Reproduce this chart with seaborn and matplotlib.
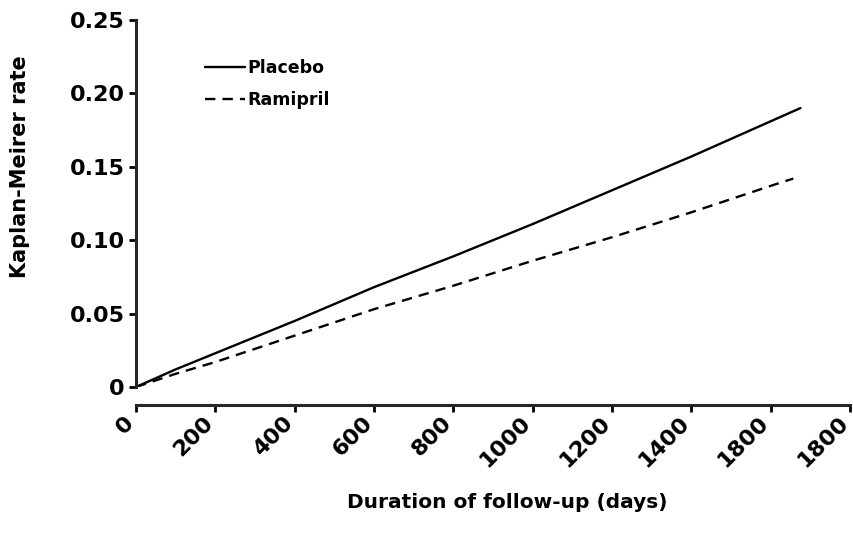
import matplotlib
matplotlib.use("Agg")
import matplotlib.pyplot as plt
import matplotlib.transforms as mtransforms
import numpy as np
import pandas as pd
import seaborn as sns

# Kaplan-Meier event rates by days of follow-up
placebo_days = [0, 100, 200, 400, 600, 800, 1000, 1200, 1400, 1600, 1675]
placebo_rate = [0.0, 0.012, 0.023, 0.045, 0.068, 0.089, 0.111, 0.134, 0.157, 0.181, 0.190]
ramipril_days = [0, 100, 200, 400, 600, 800, 1000, 1200, 1400, 1600, 1657]
ramipril_rate = [0.0, 0.009, 0.017, 0.035, 0.053, 0.069, 0.086, 0.102, 0.119, 0.137, 0.142]

x_ticks = [0, 200, 400, 600, 800, 1000, 1200, 1400, 1600, 1800]
x_tick_labels = ["0", "200", "400", "600", "800", "1000", "1200", "1400", "1800", "1800"]
y_ticks = [0, 0.05, 0.10, 0.15, 0.20, 0.25]
y_tick_labels = ["0", "0.05", "0.10", "0.15", "0.20", "0.25"]

df = pd.concat([
    pd.DataFrame({"days": placebo_days, "rate": placebo_rate, "group": "Placebo"}),
    pd.DataFrame({"days": ramipril_days, "rate": ramipril_rate, "group": "Ramipril"}),
], ignore_index=True)

sns.set_style("ticks")
plt.rcParams["font.family"] = ["DejaVu Sans"]
plt.rcParams["text.color"] = "black"
plt.rcParams["axes.labelcolor"] = "black"
plt.rcParams["xtick.color"] = "black"
plt.rcParams["ytick.color"] = "black"

fig = plt.figure(figsize=(8.54, 5.33), dpi=100)
ax = fig.add_axes([136 / 854, 1 - 387 / 533, 714 / 854, 367 / 533])

sns.lineplot(
    data=df, x="days", y="rate", style="group",
    dashes={"Placebo": "", "Ramipril": (4.4, 3.0)},
    color="black", linewidth=1.7, ax=ax, estimator=None, sort=False,
)

# axis frame: open left/bottom, bottom detached from the data area
for side in ("top", "right"):
    ax.spines[side].set_visible(False)
ax.spines["bottom"].set_position(("outward", 13))
ax.spines["left"].set_linewidth(2.2)
ax.spines["bottom"].set_linewidth(2.2)

ax.set_xlim(0, 1800)
ax.set_ylim(0, 0.25)
ax.set_xticks(x_ticks)
ax.set_xticklabels(x_tick_labels, rotation=45, ha="right", va="center",
                   rotation_mode="anchor", fontsize=16, fontweight="bold")
ax.set_yticks(y_ticks)
ax.set_yticklabels(y_tick_labels, fontsize=16, fontweight="bold")

ax.tick_params(axis="both", direction="out", length=5, width=2)
ax.tick_params(axis="x", pad=8)
ax.tick_params(axis="y", pad=3)

# nudge the slanted day labels so each ends under its tick
nudge = mtransforms.ScaledTranslation(-5 / 100, 3 / 100, fig.dpi_scale_trans)
for lab in ax.get_xticklabels():
    lab.set_transform(lab.get_transform() + nudge)

ax.set_xlabel("Duration of follow-up (days)", fontsize=14.5, fontweight="bold")
ax.set_ylabel("Kaplan-Meirer rate", fontsize=15, fontweight="bold")
ax.xaxis.set_label_coords(0.52, -0.29)
ax.yaxis.set_label_coords(-0.148, 0.60)

leg = ax.legend(loc="upper left", bbox_to_anchor=(0.075, 0.935), frameon=False,
                handlelength=2.3, handletextpad=0.15, labelspacing=0.8,
                prop={"size": 12.5, "weight": "bold"})
for line in leg.get_lines():
    line.set_linewidth(1.7)
for t in leg.get_texts():
    t.set_color("black")

fig.savefig("out.png", dpi=100, facecolor="white")
